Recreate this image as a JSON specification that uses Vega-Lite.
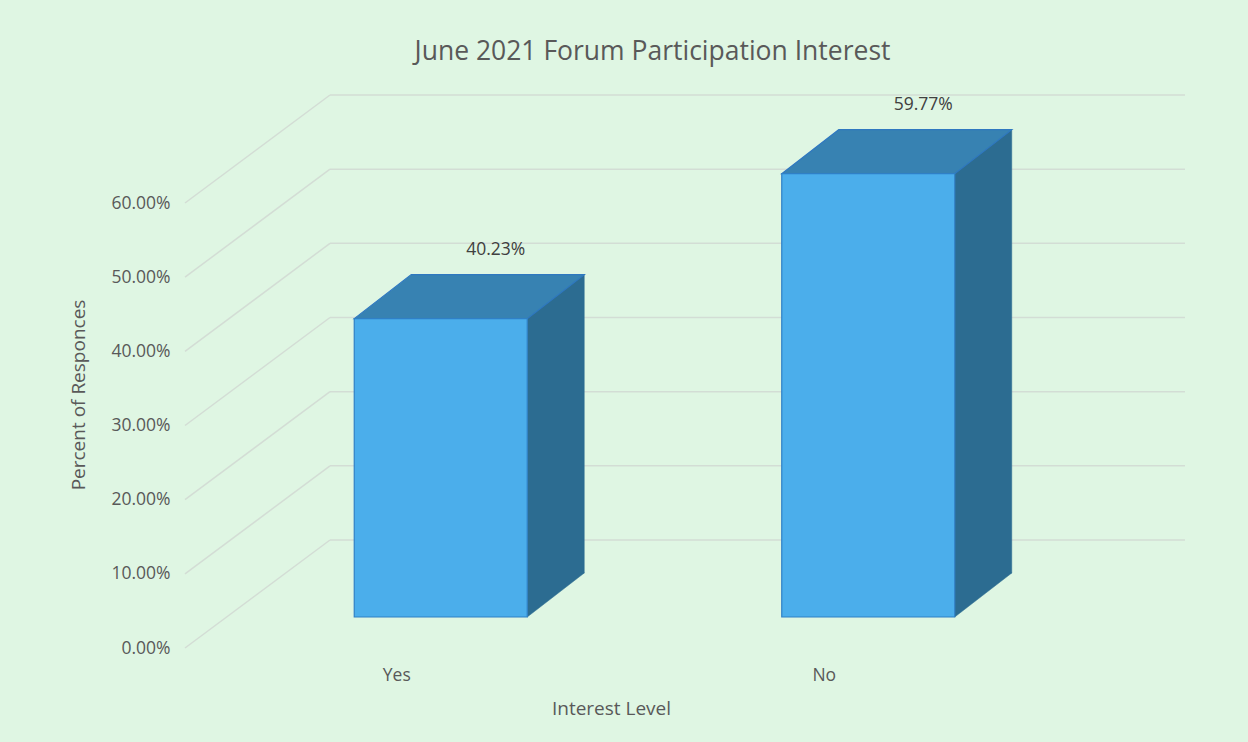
{
  "$schema": "https://vega.github.io/schema/vega-lite/v6.json",
  "width": 855,
  "height": 445,
  "autosize": {"type": "none"},
  "padding": {"left": 330, "top": 172, "right": 63, "bottom": 125},
  "background": "#DFF6E3",
  "config": {
    "view": {"stroke": null},
    "font": "Open Sans"
  },
  "title": {
    "text": "June 2021 Forum Participation Interest",
    "fontSize": 26.5,
    "font": "Open Sans",
    "fontWeight": "normal",
    "color": "#595959",
    "anchor": "middle",
    "frame": "group",
    "dx": -105,
    "offset": 29
  },
  "datasets": {
    "bars": [
      {"level": "Yes", "pct": 0.4023},
      {"level": "No", "pct": 0.5977}
    ],
    "grid": [
      {"v": 0}, {"v": 0.1}, {"v": 0.2}, {"v": 0.3}, {"v": 0.4}, {"v": 0.5}, {"v": 0.6}
    ]
  },
  "layer": [
    {
      "data": {"name": "grid"},
      "mark": {"type": "rule", "color": "#D3DDD5", "strokeWidth": 1.5, "yOffset": -77},
      "encoding": {
        "y": {"field": "v", "type": "quantitative", "scale": {"domain": [0, 0.6], "nice": false, "zero": true},
          "axis": {"format": ".2%", "values": [0, 0.1, 0.2, 0.3, 0.4, 0.5, 0.6], "grid": false, "ticks": false, "tickSize": 0, "domain": false,
            "labelOffset": 31, "labelPadding": 160, "labelFontSize": 17.5, "labelColor": "#595959", "labelFont": "Open Sans",
            "title": "Percent of Responces", "titleFontSize": 19, "titleFontWeight": "normal", "titleColor": "#595959", "titleFont": "Open Sans",
            "titleX": -252, "titleBaseline": "middle"}}
      }
    },
    {
      "data": {"name": "grid"},
      "mark": {"type": "rule", "color": "#D3DDD5", "strokeWidth": 1.5, "xOffset": -145, "yOffset": 31, "y2Offset": -77},
      "encoding": {
        "y": {"field": "v", "type": "quantitative"},
        "y2": {"field": "v"},
        "x": {"value": 0},
        "x2": {"value": 0}
      }
    },
    {
      "data": {"name": "bars"},
      "mark": {"type": "bar", "width": 57, "xOffset": 12, "yOffset": -44, "y2Offset": -44, "color": "#2C6C91", "stroke": "#2C6C91", "strokeWidth": 0.5},
      "encoding": {
        "x": {"field": "level", "type": "nominal", "sort": null, "scale": {"paddingInner": 0, "paddingOuter": 0},
          "axis": {"labelAngle": 0, "ticks": false, "tickSize": 0, "domain": false, "labelOffset": -147, "labelPadding": 49,
            "labelFontSize": 17.5, "labelColor": "#595959", "labelFont": "Open Sans",
            "title": "Interest Level", "titleFontSize": 19, "titleFontWeight": "normal", "titleColor": "#595959", "titleFont": "Open Sans",
            "titleX": 281, "titleY": 91, "titleBaseline": "middle"}},
        "y": {"field": "pct", "type": "quantitative"}
      }
    },
    {
      "data": {"name": "bars"},
      "mark": {"type": "point", "shape": "M-16.5,-44L40.5,-44L-16.5,0Z", "size": 4, "filled": true, "opacity": 1, "color": "#2C6C91", "stroke": "#2C6C91", "strokeWidth": 0.5},
      "encoding": {
        "x": {"field": "level", "type": "nominal", "sort": null},
        "y": {"datum": 0, "type": "quantitative"}
      }
    },
    {
      "data": {"name": "bars"},
      "mark": {"type": "point", "shape": "M-189.5,0L-132.5,-44L40.5,-44L-16.5,0Z", "size": 4, "filled": true, "opacity": 1, "fill": "#3782B2", "stroke": "#2F78C0", "strokeWidth": 1.2},
      "encoding": {
        "x": {"field": "level", "type": "nominal", "sort": null},
        "y": {"field": "pct", "type": "quantitative"}
      }
    },
    {
      "data": {"name": "bars"},
      "mark": {"type": "bar", "width": 173, "xOffset": -103, "color": "#4BAEEB", "stroke": "#2F80C6", "strokeWidth": 1.2},
      "encoding": {
        "x": {"field": "level", "type": "nominal", "sort": null},
        "y": {"field": "pct", "type": "quantitative"}
      }
    },
    {
      "data": {"name": "bars"},
      "mark": {"type": "text", "dx": -48, "dy": -69, "baseline": "middle", "align": "center", "fontSize": 17.5, "font": "Open Sans", "color": "#404040"},
      "encoding": {
        "x": {"field": "level", "type": "nominal", "sort": null},
        "y": {"field": "pct", "type": "quantitative"},
        "text": {"field": "pct", "type": "quantitative", "format": ".2%"}
      }
    }
  ]
}
